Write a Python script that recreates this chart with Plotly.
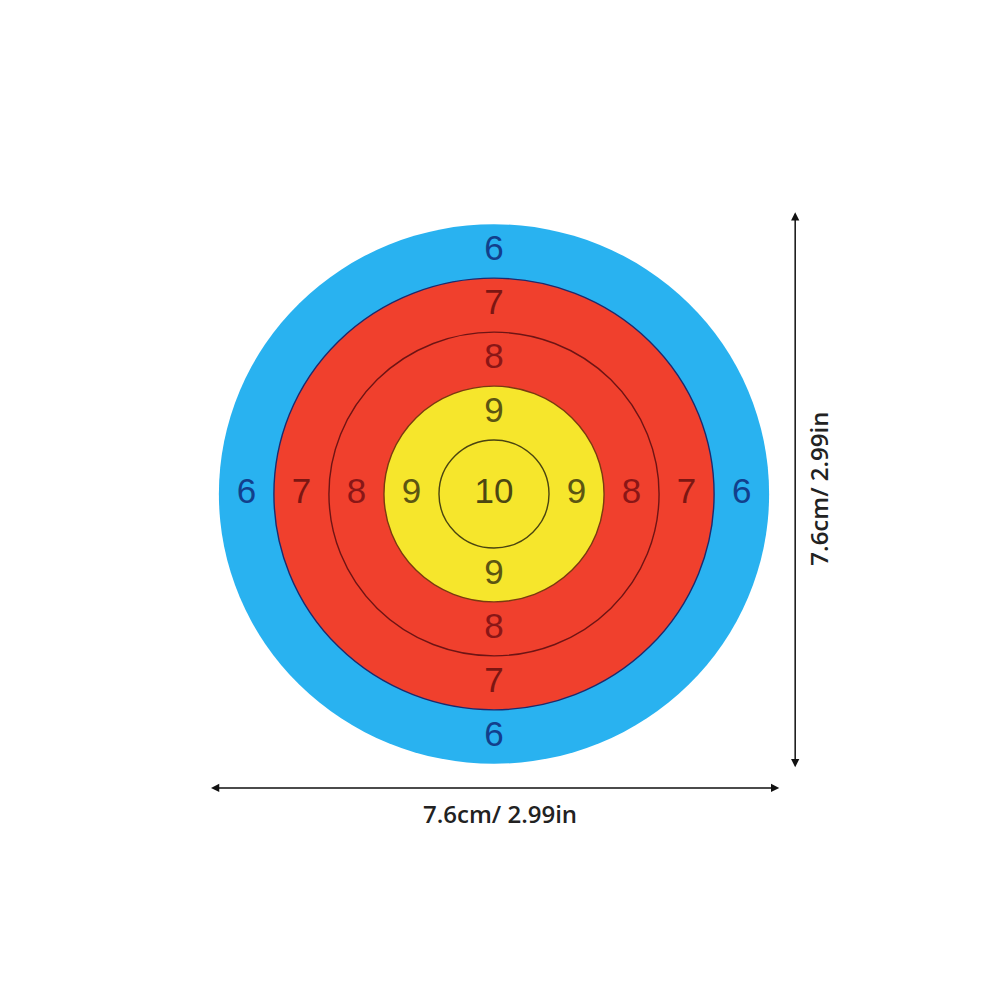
import plotly.graph_objects as go

# --- target data (cm) ---
ring_scores = [6, 7, 8, 9, 10]
ring_radius = [3.8, 3.04, 2.28, 1.52, 0.76]   # outer radius of each scoring zone
ring_fill = ["#29b2f0", "#f0402d", "#f0402d", "#f6e62c", "#f6e62c"]
ring_edge = ["rgba(0,0,0,0)", "#1d2a6e", "#6e1414", "#7a3a10", "#4a4410"]
label_color = {6: "#123f8c", 7: "#7c1612", 8: "#8a1616", 9: "#5c5512", 10: "#4c4712"}

size_label = "7.6cm/ 2.99in"
target_diameter = 7.6

# pixel scale of the photo (px per cm), centre of the target (page has an 8px body margin)
px_x, px_y = 72.4, 71.0
cx_px, cy_px = 486, 486

fig = go.Figure()

# rings, largest first
for score, r, fc, ec in zip(ring_scores, ring_radius, ring_fill, ring_edge):
    fig.add_shape(
        type="circle", xref="x", yref="y",
        x0=-r, x1=r, y0=-r, y1=r,
        fillcolor=fc,
        line=dict(color=ec, width=0 if score == 6 else 1.4),
        layer="below",
    )

# score numbers: middle of each ring on the four sides, "10" in the centre
lx, ly, lt, lc = [], [], [], []
for i, score in enumerate(ring_scores):
    if score == 10:
        lx.append(0); ly.append(0); lt.append("10"); lc.append(label_color[score])
        continue
    mid = (ring_radius[i] + ring_radius[i + 1]) / 2
    for dx, dy in [(0, 1), (1, 0), (0, -1), (-1, 0)]:
        lx.append(dx * mid); ly.append(dy * mid)
        lt.append(str(score)); lc.append(label_color[score])

fig.add_trace(go.Scatter(
    x=lx, y=ly, mode="text", text=lt,
    textfont=dict(family="Liberation Sans", size=35, color=lc),
    hoverinfo="skip", showlegend=False,
))

# dimension arrows
R = target_diameter / 2
hy = -(R + 0.34)
vx = R + 0.36
arrow = dict(showarrow=True, arrowhead=2, arrowside="end+start", arrowsize=1.1,
             arrowwidth=1.5, arrowcolor="#111111", axref="x", ayref="y", text="")
fig.add_annotation(x=R + 0.14, y=hy, ax=-R - 0.13, ay=hy, **arrow)
fig.add_annotation(x=vx, y=R + 0.17, ax=vx, ay=-R - 0.07, **arrow)

fig.add_annotation(x=0.08, y=hy - 0.36, text=size_label, showarrow=False,
                   font=dict(family="Open Sans", size=24, color="#222222", weight=600))
fig.add_annotation(x=vx + 0.31, y=0.07, text=size_label, showarrow=False, textangle=-90,
                   font=dict(family="Open Sans", size=24, color="#222222", weight=600))

fig.update_layout(
    width=990, height=990,
    margin=dict(l=0, r=0, t=0, b=0),
    paper_bgcolor="white", plot_bgcolor="white",
    xaxis=dict(range=[-cx_px / px_x, (990 - cx_px) / px_x], visible=False, fixedrange=True),
    yaxis=dict(range=[-(990 - cy_px) / px_y, cy_px / px_y], visible=False, fixedrange=True),
    showlegend=False,
)

fig.write_html("out.html")
